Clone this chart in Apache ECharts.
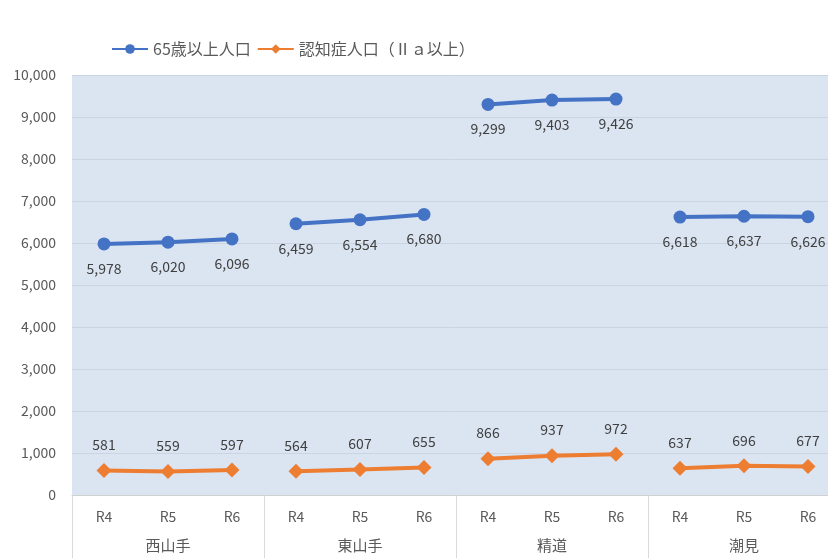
<!DOCTYPE html>
<html>
<head>
<meta charset="utf-8">
<script src="https://cdn.jsdelivr.net/npm/echarts@6/dist/echarts.min.js"></script>
<style>html,body{margin:0;padding:0;background:#fff}#c{width:828px;height:558px}</style>
</head>
<body>
<div id="c"></div>
<script>
const periods = ['R4','R5','R6','R4','R5','R6','R4','R5','R6','R4','R5','R6'];
const groups = ['西山手','東山手','精道','潮見'];
const seniorName = '65歳以上人口';
const dementiaName = '認知症人口（Ⅱａ以上）';
const seniorValues = [5978, 6020, 6096, 6459, 6554, 6680, 9299, 9403, 9426, 6618, 6637, 6626];
const dementiaValues = [581, 559, 597, 564, 607, 655, 866, 937, 972, 637, 696, 677];
const yTicks = {min: 0, max: 10000, interval: 1000};

const FONT = '"Noto Sans CJK JP", "Noto Sans", sans-serif';
const fmt = v => Number(v).toLocaleString('en-US');

function segment(values, g) {
  return values.map((v, i) => (Math.floor(i / 3) === g ? v : null));
}

const series = [];
groups.forEach((_, g) => {
  series.push({
    name: seniorName, type: 'line', data: segment(seniorValues, g),
    symbol: 'circle', symbolSize: 13, connectNulls: false,
    lineStyle: {color: '#4472C4', width: 4}, itemStyle: {color: '#4472C4'},
    label: {show: true, position: 'bottom', distance: 11, color: '#404040', fontSize: 14, fontFamily: FONT,
      formatter: p => fmt(p.value)},
    z: 3
  });
});
groups.forEach((_, g) => {
  series.push({
    name: dementiaName, type: 'line', data: segment(dementiaValues, g),
    symbol: 'diamond', symbolSize: 15, connectNulls: false,
    lineStyle: {color: '#ED7D31', width: 4}, itemStyle: {color: '#ED7D31'},
    label: {show: true, position: 'top', distance: 11, color: '#404040', fontSize: 14, fontFamily: FONT,
      formatter: p => fmt(p.value)},
    z: 3
  });
});

const chart = echarts.init(document.getElementById('c'), null, {renderer: 'canvas'});
chart.setOption({
  animation: false,
  textStyle: {fontFamily: FONT},
  legend: {
    data: [seniorName, dementiaName],
    left: 106, top: 36, itemWidth: 36, itemHeight: 12, itemGap: 6,
    textStyle: {color: '#595959', fontSize: 16, fontFamily: FONT}
  },
  grid: {
    left: 72, top: 75, width: 768, bottom: 63,
    containLabel: false, outerBoundsMode: 'none',
    show: true, backgroundColor: '#dbe5f2', borderWidth: 0
  },
  xAxis: [
    {
      type: 'category', data: periods, position: 'bottom', offset: 0,
      axisLine: {show: true, lineStyle: {color: '#d0d0d0'}},
      axisTick: {show: false},
      axisLabel: {color: '#595959', fontSize: 14, margin: 15, fontFamily: FONT, interval: 0}
    },
    {
      type: 'category', data: groups, position: 'bottom', offset: 0,
      axisLine: {show: false},
      axisTick: {show: true, length: 70, interval: 0, lineStyle: {color: '#d9d9d9'}},
      axisLabel: {color: '#595959', fontSize: 15, margin: 43, fontFamily: FONT, interval: 0},
      splitLine: {show: false}
    }
  ],
  yAxis: {
    type: 'value', min: yTicks.min, max: yTicks.max, interval: yTicks.interval,
    axisLine: {show: false}, axisTick: {show: false},
    axisLabel: {color: '#595959', fontSize: 14, margin: 16, fontFamily: FONT, formatter: v => fmt(v)},
    splitLine: {lineStyle: {color: '#cad4e2', width: 1}}
  },
  series: series
});
</script>
</body>
</html>
